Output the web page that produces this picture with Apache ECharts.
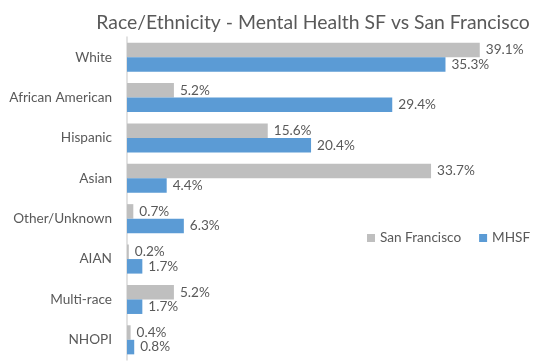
<!DOCTYPE html>
<html><head><meta charset="utf-8">
<script src="https://cdn.jsdelivr.net/npm/echarts@6/dist/echarts.min.js"></script>
<style>html,body{margin:0;padding:0;background:#fff}#c{width:554px;height:362px}</style>
</head><body><div id="c"></div>
<script>
const categories = ["White","African American","Hispanic","Asian","Other/Unknown","AIAN","Multi-race","NHOPI"];
const sanFrancisco = [39.1,5.2,15.6,33.7,0.7,0.2,5.2,0.4];
const mhsf = [35.3,29.4,20.4,4.4,6.3,1.7,1.7,0.8];
const seriesNames = ["San Francisco","MHSF"];
const FONT = "Lato";
const chart = echarts.init(document.getElementById('c'));
const lbl = {show:true,position:'right',distance:6,color:'#595959',fontFamily:FONT,fontSize:13.6,formatter:p=>p.value.toFixed(1)+'%'};
chart.setOption({
  animation:false,
  title:{text:'Race/Ethnicity - Mental Health SF vs San Francisco',left:308,textAlign:'center',top:8,
    textStyle:{fontFamily:FONT,fontSize:19.4,fontWeight:'normal',color:'#595959'}},
  legend:{data:seriesNames,left:362,top:226,itemWidth:8,itemHeight:8,itemGap:18,icon:'rect',
    textStyle:{fontFamily:FONT,fontSize:13.6,color:'#595959'}},
  grid:{left:127,right:21,top:37,bottom:2},
  xAxis:{type:'value',min:0,max:45,show:false,splitLine:{show:false}},
  yAxis:{type:'category',data:categories,inverse:true,
    axisLine:{lineStyle:{color:'#d9d9d9',width:1.5}},axisTick:{show:false},
    axisLabel:{fontFamily:FONT,fontSize:13.6,color:'#595959',margin:15}},
  series:[
    {name:seriesNames[0],type:'bar',data:sanFrancisco,itemStyle:{color:'#bfbfbf'},barGap:'0%',barCategoryGap:'28%',label:lbl},
    {name:seriesNames[1],type:'bar',data:mhsf,itemStyle:{color:'#5b9bd5'},barGap:'0%',barCategoryGap:'28%',label:lbl}
  ]
});
</script></body></html>
